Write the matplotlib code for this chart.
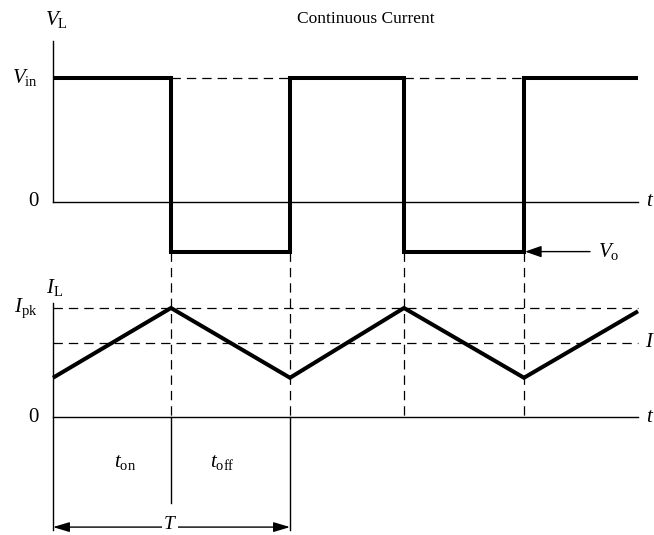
import matplotlib
matplotlib.use("Agg")
from matplotlib import pyplot as plt

plt.rcParams['font.family'] = ['Liberation Serif', 'DejaVu Serif']
plt.rcParams['mathtext.fontset'] = 'custom'
plt.rcParams['mathtext.rm'] = 'Liberation Serif'
plt.rcParams['mathtext.it'] = 'Liberation Serif:italic'

# switching instants (arbitrary time units), one full period = 237
switch_t = [0, 118, 237, 351, 471, 585]
# inductor voltage per instant (normalised to Vin), step 'post'
v_l = [1.0, -0.4, 1.0, -0.4, 1.0, 1.0]
# inductor current at the same instants (normalised to Ipk)
i_l = [0.36, 1.0, 0.36, 1.0, 0.36, 0.97]
i_avg = 0.68
v_top, i_top, i_bottom = 1.30, 1.05, -1.04
t_on_end, t_div_end = -0.79, -1.04
t_arrow_y = -1.01

W, H = 654, 535
fig = plt.figure(figsize=(W / 100, H / 100), dpi=100)
# both panels share the full figure, each with its own vertical scale
ax_v = fig.add_axes([0, 0, 1, 1])
ax_i = fig.add_axes([0, 0, 1, 1])
for ax in (ax_v, ax_i):
    ax.set_xlim(-53, W - 53)
    ax.axis('off')
    ax.patch.set_alpha(0)
ax_v.set_ylim((202 - H) / 124, 202 / 124)
ax_i.set_ylim((417 - H) / 109, 417 / 109)

thick = dict(color='black', lw=2.9, solid_joinstyle='miter', solid_capstyle='butt')
thin = dict(color='black', lw=1.0)
dash = dict(color='black', lw=0.9, dashes=(7.5, 4.8))
fs = 15

# ---- voltage panel
ax_v.plot([0, 0], [0, v_top], **thin)
ax_v.plot([0, switch_t[-1]], [0, 0], **thin)
ax_v.step(switch_t, v_l, where='post', **thick)
for k in (1, 3):
    ax_v.plot([switch_t[k], switch_t[k + 1]], [1.0, 1.0], **dash)
ax_v.annotate('', xy=(switch_t[4] + 1, -0.4), xytext=(537, -0.4),
              arrowprops=dict(arrowstyle='-|>,head_length=1.0,head_width=0.35',
                              color='black', lw=1.0, shrinkA=0, shrinkB=0))
ax_v.text(3, 1.47, r'$V_{\rm L}$', fontsize=fs, ha='center', va='center')
ax_v.text(-28, 1.0, r'$V_{\rm in}$', fontsize=fs, ha='center', va='center')
ax_v.text(-20, 0, '0', fontsize=fs, ha='center', va='center')
ax_v.text(597, 0, r'$t$', fontsize=fs, ha='center', va='center')
ax_v.text(556, -0.4, r'$V_{\rm o}$', fontsize=fs, ha='center', va='center')

# ---- current panel
ax_i.plot([0, 0], [i_bottom, i_top], **thin)
ax_i.plot([0, switch_t[-1]], [0, 0], **thin)
ax_i.plot([0, switch_t[-1]], [1.0, 1.0], **dash)
ax_i.plot([0, switch_t[-1]], [i_avg, i_avg], **dash)
ax_i.plot(switch_t, i_l, **thick)
# vertical guides from the low voltage level down to the current axis
low_in_i = ax_i.transData.inverted().transform(
    ax_v.transData.transform((0, v_l[1])))[1]
for t in switch_t[1:5]:
    ax_i.plot([t, t], [low_in_i, 0], **dash)
ax_i.plot([switch_t[1]] * 2, [0, t_on_end], **thin)
ax_i.plot([switch_t[2]] * 2, [0, t_div_end], **thin)
ax_i.annotate('', xy=(0, t_arrow_y), xytext=(switch_t[2], t_arrow_y),
              arrowprops=dict(arrowstyle='<|-|>,head_length=1.0,head_width=0.3',
                              color='black', lw=1.0, shrinkA=0, shrinkB=0))
ax_i.text(117, t_arrow_y + 0.025, r'$T$', fontsize=14, ha='center', va='center',
          bbox=dict(fc='white', ec='none', pad=1.0))
ax_i.text(1, 1.19, r'$I_{\rm L}$', fontsize=fs, ha='center', va='center')
ax_i.text(-27, 1.0, r'$I_{\rm pk}$', fontsize=fs, ha='center', va='center')
ax_i.text(-20, 0, '0', fontsize=fs, ha='center', va='center')
ax_i.text(597, 0, r'$t$', fontsize=fs, ha='center', va='center')
ax_i.text(597, i_avg, r'$I$', fontsize=fs, ha='center', va='center')
ax_i.text(72, -0.42, r'$t_{\rm on}$', fontsize=fs, ha='center', va='center')
ax_i.text(169, -0.42, r'$t_{\rm off}$', fontsize=fs, ha='center', va='center')

fig.text(366 / W, 1 - 19 / H, 'Continuous Current', fontsize=12.5,
         ha='center', va='center')

fig.savefig('out.png', dpi=100)
